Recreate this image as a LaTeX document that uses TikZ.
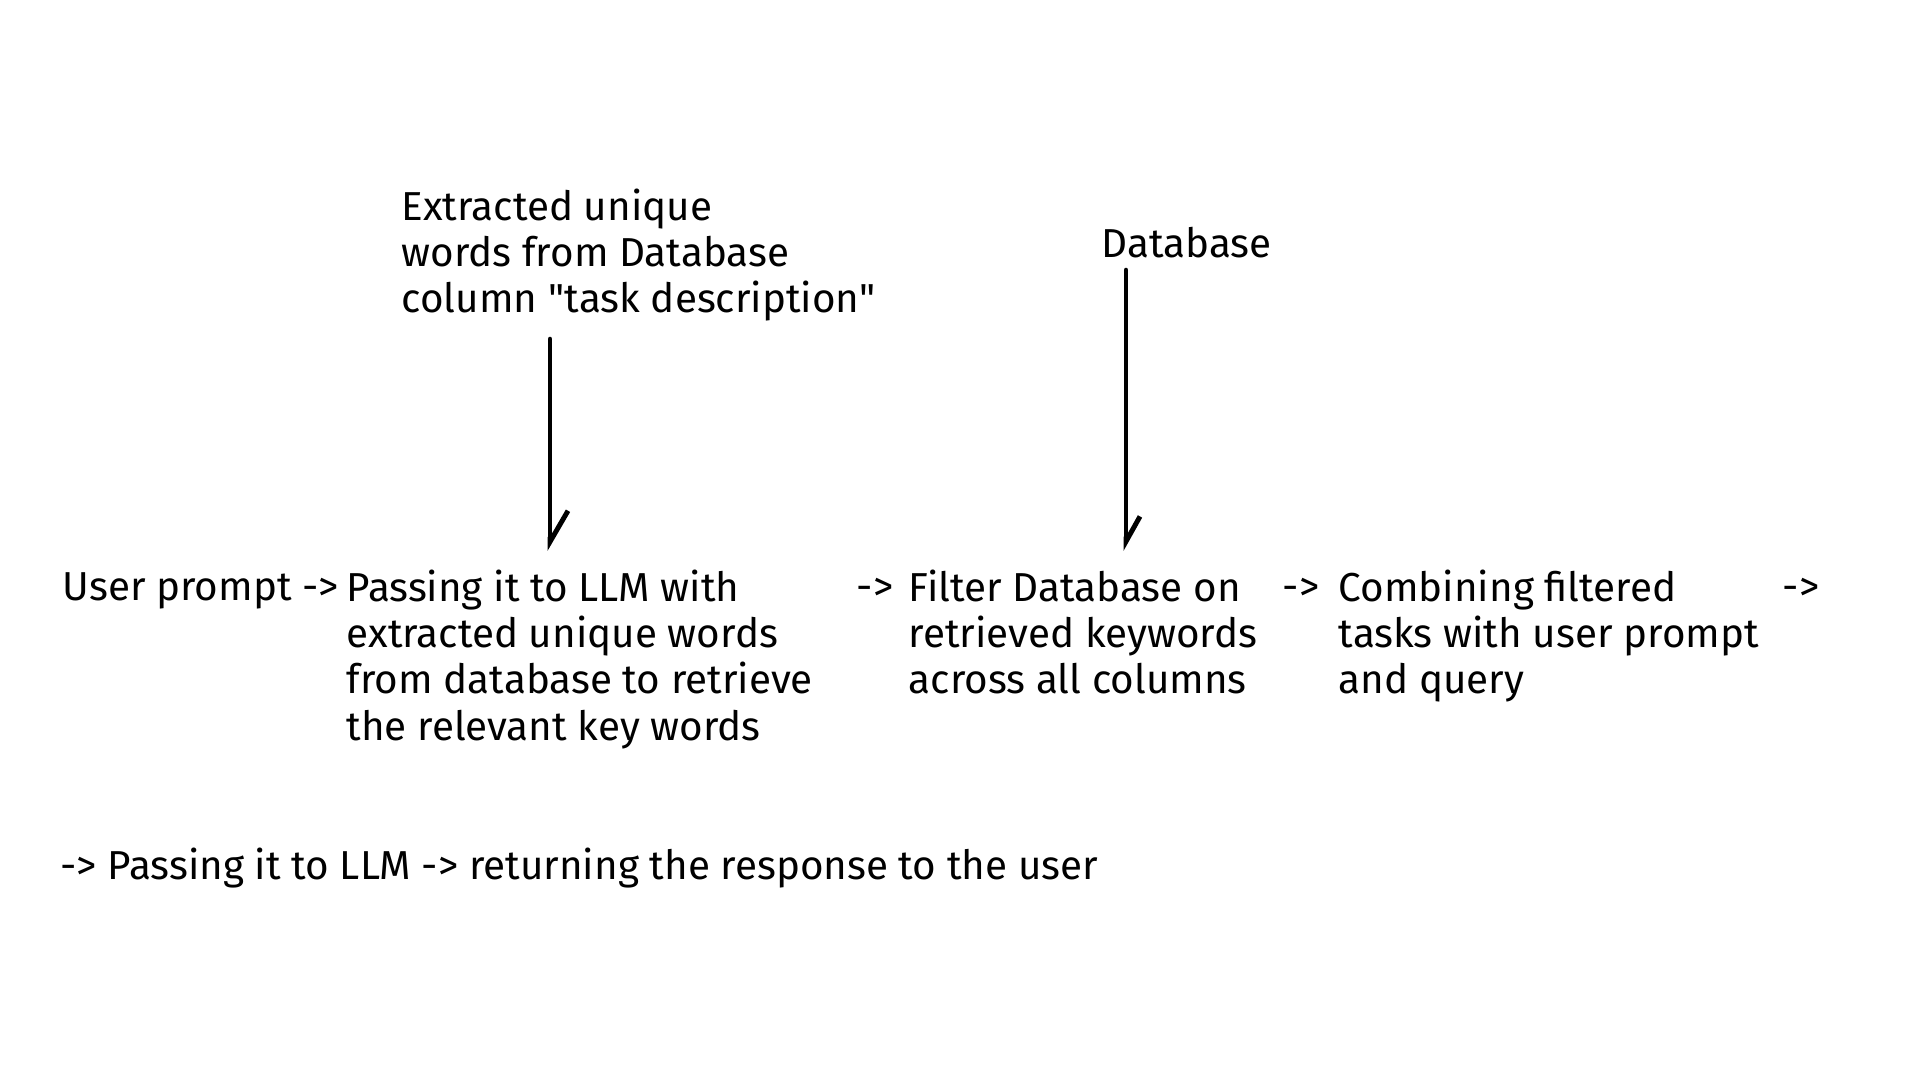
\documentclass[tikz,border=0pt]{standalone}
\usepackage{fontspec}
\setmainfont{Fira Sans}[Ligatures=TeXOff]
\usetikzlibrary{positioning, arrows.meta}

\tikzstyle{words} = [inner sep=0pt, anchor=base west, align=left, font=\fontsize{11.5}{13.2}\selectfont]
\tikzstyle{arrow} = [line width=1.4pt, line cap=round, line join=round]
\tikzstyle{barbA} = [-{Straight Barb[left, length=0.31cm, width=0.36cm]}]
\tikzstyle{barbB} = [-{Straight Barb[left, length=0.25cm, width=0.28cm]}]

\begin{document}
\begin{tikzpicture}
  \path[use as bounding box, fill=white] (0,0) rectangle (19.2,10.8);

  % base west = baseline of the last line
  \node (extracted) [words] at (4.01,7.671) {Extracted unique\\words from Database\\column "task description"};
  \node (database) [words] at (11.01,8.22) {Database};

  \node (user) [words] at (0.62,4.79) {User prompt ->};
  \node (passing) [words] at (3.46,3.397) {Passing it to LLM with\\extracted unique words\\from database to retrieve\\the relevant key words};
  \node (to1) [words] at (8.56,4.79) {->};
  \node (filter) [words] at (9.08,3.861) {Filter Database on\\retrieved keywords\\across all columns};
  \node (to2) [words] at (12.82,4.79) {->};
  \node (combine) [words] at (13.38,3.861) {Combining filtered\\tasks with user prompt\\and query};
  \node (to3) [words] at (17.82,4.79) {->};

  \node (final) [words] at (0.60,2.00) {-> Passing it to LLM -> returning the response to the user};

  \draw [arrow, barbA, shorten <=0.17cm, shorten >=0.18cm] (extracted.south -| 5.50,0) -- (passing.north -| 5.50,0);
  \draw [arrow, barbB, shorten <=0.11cm, shorten >=0.18cm] (database.south -| 11.26,0) -- (filter.north -| 11.26,0);
\end{tikzpicture}
\end{document}
